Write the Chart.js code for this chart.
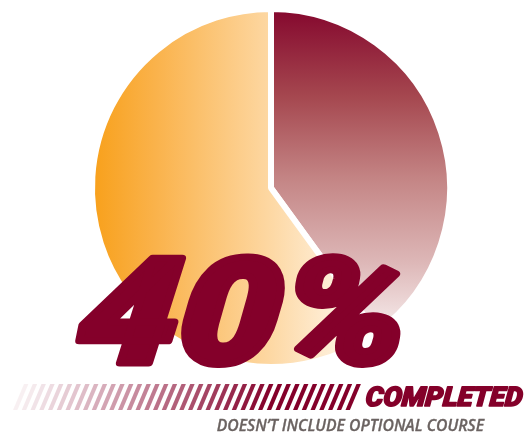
<!DOCTYPE html>
<html><head><meta charset="utf-8">
<script src="https://cdn.jsdelivr.net/npm/chart.js@4.4.1/dist/chart.umd.min.js"></script>
<style>html,body{margin:0;padding:0;background:#fff;overflow:hidden}canvas{display:block}</style>
</head><body>
<canvas id="c" width="528" height="434"></canvas>
<script>
const labels = ['Completed', 'Not completed'];
const values = [40, 60];
const headline = values[0] + '%';
const caption = 'COMPLETED';
const note = 'DOESN\u2019T INCLUDE OPTIONAL COURSE';

const RED = '#84002a';

function redGradient(ctx) {
  const g = ctx.createLinearGradient(0, 13, 0, 345);
  g.addColorStop(0, '#860a2f');
  g.addColorStop(0.25, '#a5474f');
  g.addColorStop(0.5, '#c48585');
  g.addColorStop(0.75, '#ddb7b7');
  g.addColorStop(1, '#fcf7f7');
  return g;
}
function orangeGradient(ctx) {
  const g = ctx.createLinearGradient(95, 0, 365, 0);
  g.addColorStop(0, '#f8a11d');
  g.addColorStop(0.22, '#fab24a');
  g.addColorStop(0.63, '#fdd69f');
  g.addColorStop(0.87, '#feedd5');
  g.addColorStop(1, '#fff9ef');
  return g;
}

function fitText(ctx, text, style, family, left, right, top, baseline, skewDeg, color, lw, skewFactor) {
  lw = lw || 0;
  left += lw / 2; right -= lw / 2; top += lw / 2; baseline -= lw / 2;
  ctx.save();
  ctx.font = style + ' 100px ' + family;
  const m = ctx.measureText(text);
  const asc = m.actualBoundingBoxAscent;
  const capH = baseline - top;
  const size = 100 * capH / asc;
  const k = Math.tan(skewDeg * Math.PI / 180);
  const inkW = (m.actualBoundingBoxLeft + m.actualBoundingBoxRight) * size / 100;
  const sx = (right - left - k * capH * skewFactor) / inkW;
  ctx.translate(left, baseline);
  ctx.transform(1, 0, -k, 1, 0, 0);
  ctx.scale(sx, 1);
  ctx.font = style + ' ' + size + 'px ' + family;
  ctx.fillStyle = color;
  ctx.textBaseline = 'alphabetic';
  const x = m.actualBoundingBoxLeft * size / 100;
  ctx.fillText(text, x, 0);
  if (lw > 0) {
    ctx.strokeStyle = color;
    ctx.lineJoin = 'round';
    ctx.lineWidth = lw;
    ctx.strokeText(text, x, 0);
  }
  ctx.restore();
}

const decor = {
  id: 'decor',
  afterDraw(chart) {
    const ctx = chart.ctx;
    // stripes
    const x0 = 13, x1 = 363, yT = 384, yB = 410, period = 8.75, sw = 4.4, shift = 11;
    ctx.save();
    for (let x = x0; x + sw + shift <= x1 + 1; x += period) {
      const t = Math.min(1, (x - x0) / 250);
      const a = 0.06 + 0.94 * Math.pow(t, 1.1);
      ctx.globalAlpha = a;
      ctx.fillStyle = RED;
      ctx.beginPath();
      ctx.moveTo(x, yB);
      ctx.lineTo(x + sw, yB);
      ctx.lineTo(x + sw + shift, yT);
      ctx.lineTo(x + shift, yT);
      ctx.closePath();
      ctx.fill();
    }
    ctx.restore();
    fitText(ctx, headline, 'italic 900', 'Roboto, Lato', 73, 399, 253, 366, 6, RED, 7, 0.15);
    fitText(ctx, caption, 'italic 900', 'Roboto, Lato', 365, 523, 386, 407, 5, RED, 1.6, 0.3);
    fitText(ctx, note, 'italic 600', '"Open Sans"', 217, 485, 420, 431.5, 0, '#6b6361', 0.3, 0);
  }
};

function build() {
  new Chart(document.getElementById('c'), {
    type: 'pie',
    data: {
      labels: labels,
      datasets: [{
        data: values,
        backgroundColor: (c) => c.dataIndex === 0 ? redGradient(c.chart.ctx) : orangeGradient(c.chart.ctx),
        borderColor: '#ffffff',
        borderWidth: 6
      }]
    },
    options: {
      responsive: false,
      animation: false,
      devicePixelRatio: 1,
      layout: { padding: { left: 89, right: 75, top: 6, bottom: 64 } },
      plugins: { legend: { display: false }, tooltip: { enabled: false } }
    },
    plugins: [decor]
  });
}
Promise.all([
  document.fonts.load('italic 900 40px Roboto'),
  document.fonts.load('italic 900 40px Lato'),
  document.fonts.load('italic 600 16px "Open Sans"')
]).then(build, build);
</script>
</body></html>
